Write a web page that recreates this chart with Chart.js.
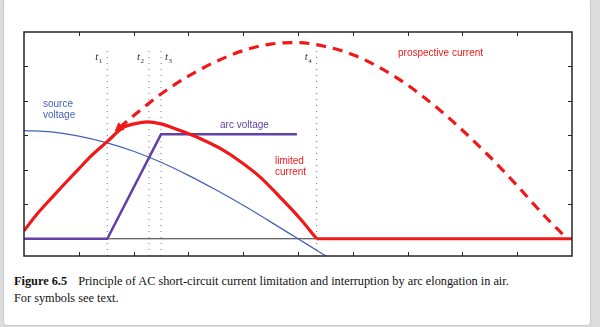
<!DOCTYPE html>
<html lang="en">
<head>
    <meta charset="UTF-8">
    <title>Figure 6.5</title>
    <style>
        html, body {
            margin: 0;
            padding: 0;
            background-color: #dcdcdc;
            width: 600px;
            height: 327px;
            overflow: hidden;
        }
        .card {
            position: absolute;
            left: 3px;
            top: -2px;
            width: 586px;
            height: 326px;
            background-color: #fff;
            border: 1px solid #c8c8c8;
            border-radius: 4px;
        }
        #chart {
            position: absolute;
            left: 0;
            top: 0;
        }
        .caption {
            position: absolute;
            left: 14px;
            top: 273px;
            font-family: 'Liberation Serif', 'Times New Roman', serif;
            font-size: 12.3px;
            line-height: 17px;
            color: #111;
            white-space: nowrap;
        }
        .caption b {
            margin-right: 8px;
        }
    </style>
</head>
<body>

<div class="card"></div>
<canvas id="chart" width="600" height="262"></canvas>
<div class="caption"><b>Figure 6.5</b> Principle of AC short-circuit current limitation and interruption by arc elongation in air.<br>For symbols see text.</div>

<script src="https://cdn.jsdelivr.net/npm/chart.js@4/dist/chart.umd.min.js"></script>
<script>
// values (x: time divisions 0..10, y: divisions)
const xTicks = [1, 2, 3, 4, 5, 6, 7, 8, 9];
const yTicks = [1, 2, 3, 4, 5];

const eventNames = ['1', '2', '3', '4'];
const eventTimes = [1.52, 2.28, 2.50, 5.34];

const prospectiveX = [1.74, 2.0, 2.5, 3.0, 3.5, 4.0, 4.5, 5.0, 5.5, 6.0, 6.5, 7.0, 7.5, 8.0, 8.5, 9.0, 9.5, 9.85];
const prospectiveY = [3.22, 3.57, 4.2, 4.72, 5.14, 5.46, 5.65, 5.69, 5.58, 5.34, 4.96, 4.46, 3.85, 3.15, 2.38, 1.54, 0.66, 0.1];

const limitedX = [0, 0.25, 0.5, 0.75, 1.0, 1.25, 1.52, 1.81, 2.03, 2.26, 2.48, 2.85, 3.21, 3.58, 3.94, 4.31, 4.67, 5.04, 5.34, 10];
const limitedY = [0.23, 0.74, 1.18, 1.61, 2.03, 2.44, 2.82, 3.23, 3.34, 3.39, 3.34, 3.14, 2.91, 2.62, 2.25, 1.79, 1.21, 0.58, 0, 0];

const arcX = [0, 1.52, 2.50, 4.98];
const arcY = [0, 0, 3.03, 3.03];

const sourceX = [0, 0.5, 1.0, 1.5, 2.0, 2.5, 3.0, 3.5, 4.0, 4.5, 5.0, 5.5, 5.6];
const sourceY = [3.14, 3.10, 2.98, 2.79, 2.54, 2.22, 1.84, 1.42, 0.97, 0.49, 0, -0.49, -0.59];

const RED = '#f01818';
const PURPLE = '#6340a6';
const BLUE = '#4360b8';

function pts(xs, ys) {
    return xs.map((x, i) => ({x: x, y: ys[i]}));
}

const limitedPts = pts(limitedX, limitedY);
const n = limitedPts.length;

const datasets = [
    {
        data: limitedPts.slice(0, n - 1),
        borderColor: RED,
        borderWidth: 3.2,
        cubicInterpolationMode: 'monotone'
    },
    {
        data: limitedPts.slice(n - 2),
        borderColor: RED,
        borderWidth: 3.2
    },
    {
        data: pts(prospectiveX, prospectiveY),
        borderColor: RED,
        borderWidth: 3.2,
        borderDash: [10, 7],
        cubicInterpolationMode: 'monotone',
        pointStyle: 'triangle',
        pointRotation: 232,
        pointRadius: ctx => ctx.dataIndex === 0 ? 5 : 0,
        pointBackgroundColor: RED,
        pointBorderColor: RED,
        pointBorderWidth: 1
    },
    {
        data: pts(arcX, arcY),
        borderColor: PURPLE,
        borderWidth: 2.5
    },
    {
        data: pts(sourceX, sourceY),
        borderColor: BLUE,
        borderWidth: 1.2,
        cubicInterpolationMode: 'monotone'
    },
    {
        data: [{x: 0, y: 0}, {x: 10, y: 0}],
        borderColor: '#333',
        borderWidth: 1
    }
];

eventTimes.forEach(t => {
    datasets.push({
        data: [{x: t, y: -0.5}, {x: t, y: 5.48}],
        borderColor: '#7a7a7a',
        borderWidth: 1,
        borderDash: [1, 5]
    });
});

// box, inward ticks and text labels
const frame = {
    id: 'frame',
    afterDatasetsDraw(chart) {
        const c = chart.ctx;
        const xs = chart.scales.x, ys = chart.scales.y;
        const a = chart.chartArea;
        c.save();
        c.strokeStyle = '#262626';
        c.lineWidth = 1;
        xTicks.forEach(v => {
            const px = Math.round(xs.getPixelForValue(v)) + 0.5;
            c.beginPath();
            c.moveTo(px, a.top); c.lineTo(px, a.top + 4);
            c.moveTo(px, a.bottom); c.lineTo(px, a.bottom - 4);
            c.stroke();
        });
        yTicks.forEach(v => {
            const py = Math.round(ys.getPixelForValue(v)) + 0.5;
            c.beginPath();
            c.moveTo(a.left, py); c.lineTo(a.left + 4, py);
            c.moveTo(a.right, py); c.lineTo(a.right - 4, py);
            c.stroke();
        });
        c.lineWidth = 1.5;
        c.strokeRect(a.left, a.top, a.right - a.left, a.bottom - a.top);

        c.textBaseline = 'middle';
        c.font = '10px "Liberation Sans", Arial, sans-serif';
        c.fillStyle = BLUE;
        c.fillText('source', 43, 104);
        c.fillText('voltage', 43, 115);
        c.fillStyle = PURPLE;
        c.fillText('arc voltage', 220, 125);
        c.fillStyle = RED;
        c.fillText('limited', 275, 161);
        c.fillText('current', 275, 172);
        c.fillText('prospective current', 398, 53);

        // t labels
        c.textBaseline = 'alphabetic';
        eventTimes.forEach((t, i) => {
            const px = xs.getPixelForValue(t);
            const off = i === 2 ? 4 : -12;
            c.fillStyle = '#333';
            c.font = 'italic 11px "Liberation Serif", serif';
            c.fillText('t', px + off, 60);
            c.font = '7px "Liberation Serif", serif';
            c.fillText(eventNames[i], px + off + 3.5, 63);
        });
        c.restore();
    }
};

new Chart(document.getElementById('chart'), {
    type: 'line',
    data: {datasets: datasets},
    options: {
        responsive: false,
        animation: false,
        layout: {padding: {left: 24, right: 28, top: 32, bottom: 5}},
        elements: {point: {radius: 0}},
        plugins: {legend: {display: false}, tooltip: {enabled: false}},
        scales: {
            x: {type: 'linear', min: 0, max: 10, display: false},
            y: {type: 'linear', min: -0.5, max: 6, display: false}
        }
    },
    plugins: [frame]
});
</script>

</body>
</html>
